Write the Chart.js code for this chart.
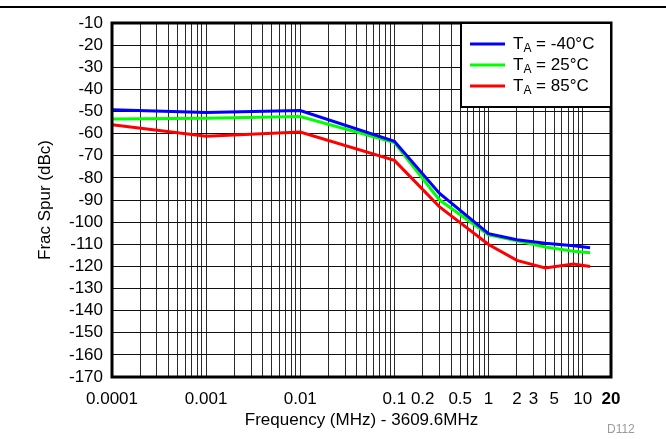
<!DOCTYPE html>
<html>
<head>
<meta charset="utf-8">
<script src="https://cdn.jsdelivr.net/npm/chart.js@4.4.1/dist/chart.umd.min.js"></script>
<style>
  html, body { margin: 0; padding: 0; background: #fff; }
  #wrap { width: 666px; height: 439px; }
</style>
</head>
<body>
<div id="wrap"><canvas id="chart-spur" width="666" height="439"></canvas></div>
<script>
// offset frequency (MHz) of the measured points
const freqs = [0.0001, 0.001, 0.01, 0.1, 0.3, 1, 2, 4, 8, 12];
// frac spur level (dBc) per temperature
const spurM40 = [-49.2, -50.4, -49.6, -63.5, -86.9, -105.2, -108.0, -109.5, -110.7, -111.6];
const spur25  = [-53.4, -53.1, -52.3, -64.0, -89.9, -105.7, -108.4, -111.2, -113.2, -113.8];
const spur85  = [-56.0, -61.2, -59.3, -72.1, -93.0, -110.1, -117.3, -120.7, -118.9, -120.1];

const tempNames = ['-40\u00B0C', '25\u00B0C', '85\u00B0C'];
const tempColors = ['#0000ff', '#00ff00', '#ff0000'];

const xTickLabels = [0.0001, 0.001, 0.01, 0.1, 0.2, 0.5, 1, 2, 3, 5, 10, 20];
const xMin = 0.0001, xMax = 20;
const yMin = -170, yMax = -10, yStep = 10;

const FONT = '"Liberation Sans", Arial, sans-serif';

// vertical grid lines: 1..9 x each decade
let gridFreqs = [];
for (let e = -4; e <= 0; e++) {
  for (let m = 1; m <= 9; m++) {
    gridFreqs.push(parseFloat((m * Math.pow(10, e)).toPrecision(6)));
  }
}
gridFreqs.push(10, 20);

function toPoints(vals) {
  return freqs.map(function (f, i) { return { x: f, y: vals[i] }; });
}

const extras = {
  id: 'extras',
  afterDraw: function (chart) {
    const ctx = chart.ctx;
    const a = chart.chartArea;
    ctx.save();

    // header rule
    ctx.fillStyle = '#000';
    ctx.fillRect(0, 6, 666, 2);

    // plot frame
    ctx.strokeStyle = '#000';
    ctx.lineWidth = 3;
    ctx.strokeRect(a.left, a.top, a.right - a.left, a.bottom - a.top);

    // legend box
    const lx = 461, ly = a.top, lw = a.right - 461, lh = 84;
    ctx.fillStyle = '#fff';
    ctx.fillRect(lx, ly, lw, lh);
    ctx.lineWidth = 2;
    ctx.strokeRect(lx, ly, lw, lh);
    tempNames.forEach(function (name, i) {
      const y = 44 + i * 21;
      ctx.strokeStyle = tempColors[i];
      ctx.lineWidth = 3;
      ctx.beginPath();
      ctx.moveTo(470, y);
      ctx.lineTo(505, y);
      ctx.stroke();
      ctx.fillStyle = '#000';
      ctx.textBaseline = 'middle';
      ctx.textAlign = 'left';
      let x = 513;
      ctx.font = '17px ' + FONT;
      ctx.fillText('T', x, y);
      x += ctx.measureText('T').width;
      ctx.font = '12px ' + FONT;
      ctx.fillText('A', x, y + 5);
      x += ctx.measureText('A').width;
      ctx.font = '17px ' + FONT;
      ctx.fillText(' = ' + name, x, y);
    });

    // axis titles
    ctx.fillStyle = '#000';
    ctx.font = '17px ' + FONT;
    ctx.textAlign = 'center';
    ctx.textBaseline = 'middle';
    ctx.fillText('Frequency (MHz) - 3609.6MHz', (a.left + a.right) / 2, 420);
    ctx.save();
    ctx.translate(45, (a.top + a.bottom) / 2);
    ctx.rotate(-Math.PI / 2);
    ctx.fillText('Frac Spur (dBc)', 0, 0);
    ctx.restore();

    // figure id
    ctx.fillStyle = '#9a9a9a';
    ctx.font = '12px ' + FONT;
    ctx.textAlign = 'left';
    ctx.fillText('D112', 607, 430);
    ctx.restore();
  }
};

const ctxSpur = document.getElementById('chart-spur').getContext('2d');
new Chart(ctxSpur, {
  type: 'line',
  data: {
    datasets: [
      { label: tempNames[0], data: toPoints(spurM40), borderColor: tempColors[0] },
      { label: tempNames[1], data: toPoints(spur25), borderColor: tempColors[1] },
      { label: tempNames[2], data: toPoints(spur85), borderColor: tempColors[2] }
    ]
  },
  options: {
    responsive: false,
    animation: false,
    parsing: false,
    layout: { padding: { top: 23, right: 55, left: 0, bottom: 0 } },
    elements: {
      line: { borderWidth: 3, tension: 0 },
      point: { radius: 0 }
    },
    scales: {
      x: {
        type: 'logarithmic',
        min: xMin,
        max: xMax,
        afterBuildTicks: function (scale) {
          scale.ticks = gridFreqs.map(function (v) { return { value: v }; });
        },
        afterFit: function (scale) { scale.height = 62; },
        ticks: {
          autoSkip: false,
          maxRotation: 0,
          minRotation: 0,
          padding: 12,
          color: '#000',
          font: function (c) {
            const bold = c.tick && c.tick.value === 20;
            return { family: FONT, size: 17, weight: bold ? 'bold' : 'normal' };
          },
          callback: function (value) {
            const hit = xTickLabels.find(function (l) { return Math.abs(value / l - 1) < 1e-6; });
            return hit === undefined ? '' : String(hit);
          }
        },
        grid: { color: '#2a2a2a', lineWidth: 1, drawTicks: false },
        border: { display: false }
      },
      y: {
        type: 'linear',
        min: yMin,
        max: yMax,
        afterFit: function (scale) { scale.width = 112; },
        ticks: {
          stepSize: yStep,
          autoSkip: false,
          padding: 9,
          color: '#000',
          font: { family: FONT, size: 17 }
        },
        grid: { color: '#111', lineWidth: 1, drawTicks: false },
        border: { display: false }
      }
    },
    plugins: {
      legend: { display: false },
      tooltip: { enabled: false }
    }
  },
  plugins: [extras]
});
</script>
</body>
</html>
